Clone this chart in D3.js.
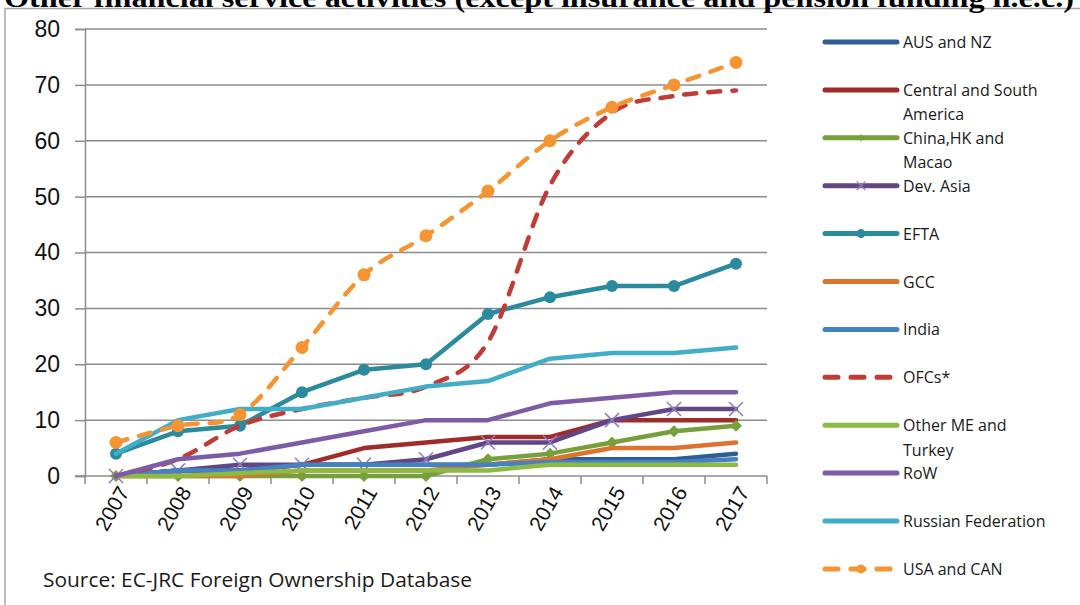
<!DOCTYPE html>
<html>
<head>
<meta charset="utf-8">
<script src="https://cdn.jsdelivr.net/npm/d3@7"></script>
<style>
  body { margin: 0; background: #fff; }
  svg { display: block; }
</style>
</head>
<body>
<script>
const w = 1080
const h = 605

// categories and tick labels
const years = ['2007','2008','2009','2010','2011','2012','2013','2014','2015','2016','2017']
const yTicks = [0, 10, 20, 30, 40, 50, 60, 70, 80]

// series values
const ausNz      = [0, 1, 1, 2, 2, 2, 2, 3, 3, 3, 4]
const csAmerica  = [0, 1, 1, 2, 5, 6, 7, 7, 10, 10, 10]
const chinaHk    = [0, 0, 0, 0, 0, 0, 3, 4, 6, 8, 9]
const devAsia    = [0, 1, 2, 2, 2, 3, 6, 6, 10, 12, 12]
const efta       = [4, 8, 9, 15, 19, 20, 29, 32, 34, 34, 38]
const gcc        = [0, 0, 0, 1, 1, 1, 2, 3, 5, 5, 6]
const india      = [0, 1, 1, 2, 2, 2, 2, 2.5, 2.5, 2.5, 3]
const ofcs       = [0, 3, 9, 12, 14, 16, 24, 52, 65, 68, 69]
const otherMe    = [0, 0, 0.5, 1, 1, 1, 1, 2, 2, 2, 2]
const row        = [0, 3, 4, 6, 8, 10, 10, 13, 14, 15, 15]
const russia     = [4, 10, 12, 12, 14, 16, 17, 21, 22, 22, 23]
const usaCan     = [6, 9, 11, 23, 36, 43, 51, 60, 66, 70, 74]

const series = [
    {name: ['AUS and NZ'], values: ausNz, color: '#2E5E93'},
    {name: ['Central and South', 'America'], values: csAmerica, color: '#A02B2B'},
    {name: ['China,HK and', 'Macao'], values: chinaHk, color: '#76A03A', marker: 'diamond'},
    {name: ['Dev. Asia'], values: devAsia, color: '#614785', marker: 'cross'},
    {name: ['EFTA'], values: efta, color: '#2B8A9E', marker: 'circle'},
    {name: ['GCC'], values: gcc, color: '#DC7430'},
    {name: ['India'], values: india, color: '#4582C4'},
    {name: ['OFCs*'], values: ofcs, color: '#C23B36', dashed: true, smooth: true},
    {name: ['Other ME and', 'Turkey'], values: otherMe, color: '#8DBA43'},
    {name: ['RoW'], values: row, color: '#7D5BA6'},
    {name: ['Russian Federation'], values: russia, color: '#41ADC9'},
    {name: ['USA and CAN'], values: usaCan, color: '#F69431', dashed: true, smooth: true, marker: 'circle'}
]

const plot = {left: 85, right: 767, top: 29, bottom: 476}

const svg = d3.select('body').append('svg')
    .attr('width', w)
    .attr('height', h)

// chart frame
svg.append('path')
    .attr('d', 'M5,' + h + 'V8.5H' + w)
    .attr('fill', 'none')
    .attr('stroke', '#a6a6a6')
    .attr('stroke-width', 1.5)

// caption of the page above, cut by the crop
svg.append('text')
    .attr('x', 4)
    .attr('y', 7)
    .attr('textLength', 1070)
    .attr('lengthAdjust', 'spacingAndGlyphs')
    .style('font-family', 'Liberation Serif')
    .style('font-weight', 'bold')
    .style('font-size', '28px')
    .text('Other financial service activities (except insurance and pension funding n.e.c.)')

const x = d3.scaleBand()
    .domain(years)
    .range([plot.left, plot.right])

const y = d3.scaleLinear()
    .domain([0, 80])
    .range([plot.bottom, plot.top])

const cx = function (d, i) { return x(years[i]) + x.bandwidth() / 2 }

// gridlines
svg.append('g')
    .selectAll('line')
    .data(yTicks.slice(1))
    .enter()
    .append('line')
    .attr('x1', plot.left)
    .attr('x2', plot.right)
    .attr('y1', function (d) { return y(d) })
    .attr('y2', function (d) { return y(d) })
    .attr('stroke', '#8c8c8c')
    .attr('stroke-width', 1.5)

// y axis
const yAxis = svg.append('g')
    .attr('transform', 'translate(' + plot.left + ',0)')
    .call(d3.axisLeft(y).tickValues(yTicks).tickSize(10).tickPadding(15))
yAxis.select('.domain').attr('stroke', '#8c8c8c').attr('stroke-width', 1.5)
yAxis.selectAll('.tick line').attr('stroke', '#8c8c8c').attr('stroke-width', 1.5)
yAxis.selectAll('.tick text')
    .style('font-family', 'Liberation Sans')
    .style('font-size', '23px')
    .attr('fill', '#111')

// x axis: tick marks sit between categories
const xAxis = svg.append('g')
    .attr('transform', 'translate(0,' + plot.bottom + ')')
    .call(d3.axisBottom(x).tickSize(0).tickPadding(0))
xAxis.select('.domain').remove()
xAxis.append('line')
    .attr('x1', plot.left - 10)
    .attr('x2', plot.right)
    .attr('stroke', '#8c8c8c')
    .attr('stroke-width', 1.5)
xAxis.selectAll('.sep')
    .data(years.concat(['end']))
    .enter()
    .append('line')
    .attr('class', 'sep')
    .attr('x1', function (d, i) { return i < years.length ? x(d) : x.range()[1] })
    .attr('x2', function (d, i) { return i < years.length ? x(d) : x.range()[1] })
    .attr('y2', 8)
    .attr('stroke', '#8c8c8c')
    .attr('stroke-width', 1.5)
xAxis.selectAll('.tick text')
    .style('font-family', 'Liberation Sans')
    .style('font-size', '21px')
    .attr('fill', '#111')
    .attr('text-anchor', 'end')
    .attr('dy', 0)
    .attr('transform', 'translate(14,16) rotate(-60)')

// lines, drawn in series order so later ones sit on top
const lineGen = d3.line()
    .x(cx)
    .y(function (d) { return y(d) })

series.forEach(function (s) {
    const g = svg.append('g')
    g.append('path')
        .datum(s.values)
        .attr('d', lineGen.curve(s.smooth ? d3.curveCardinal.tension(0) : d3.curveLinear))
        .attr('fill', 'none')
        .attr('stroke', s.color)
        .attr('stroke-width', 4.5)
        .attr('stroke-linejoin', 'round')
        .attr('stroke-linecap', 'round')
        .attr('stroke-dasharray', s.dashed ? '12,12' : null)

    if (s.marker === 'circle') {
        g.selectAll('circle')
            .data(s.values)
            .enter()
            .append('circle')
            .attr('cx', cx)
            .attr('cy', function (d) { return y(d) })
            .attr('r', s.dashed ? 6.5 : 6)
            .attr('fill', s.color)
    } else if (s.marker === 'diamond') {
        g.selectAll('path.m')
            .data(s.values)
            .enter()
            .append('path')
            .attr('class', 'm')
            .attr('d', d3.symbol(d3.symbolDiamond2, 90))
            .attr('transform', function (d, i) { return 'translate(' + cx(d, i) + ',' + y(d) + ')' })
            .attr('fill', s.color)
    } else if (s.marker === 'cross') {
        g.selectAll('path.m')
            .data(s.values)
            .enter()
            .append('path')
            .attr('class', 'm')
            .attr('d', d3.symbol(d3.symbolX, 130))
            .attr('transform', function (d, i) { return 'translate(' + cx(d, i) + ',' + y(d) + ')' })
            .attr('fill', 'none')
            .attr('stroke', '#8e7cc3')
            .attr('stroke-width', 1.5)
    }
})

// legend
const legend = svg.append('g')
    .attr('transform', 'translate(825,42)')

const item = legend.selectAll('g')
    .data(series)
    .enter()
    .append('g')
    .attr('transform', function (d, i) { return 'translate(0,' + (i * 47.9) + ')' })

item.append('line')
    .attr('x1', 0)
    .attr('x2', 72)
    .attr('stroke', function (d) { return d.color })
    .attr('stroke-width', 5)
    .attr('stroke-linecap', 'round')
    .attr('stroke-dasharray', function (d) { return d.dashed ? '13,13' : null })

item.filter(function (d) { return d.marker === 'circle' })
    .append('circle')
    .attr('cx', 36)
    .attr('r', 4.5)
    .attr('fill', function (d) { return d.color })

item.filter(function (d) { return d.marker === 'diamond' })
    .append('path')
    .attr('d', d3.symbol(d3.symbolDiamond2, 30))
    .attr('transform', 'translate(36,0)')
    .attr('fill', function (d) { return d.color })

item.filter(function (d) { return d.marker === 'cross' })
    .append('path')
    .attr('d', d3.symbol(d3.symbolX, 50))
    .attr('transform', 'translate(36,0)')
    .attr('fill', 'none')
    .attr('stroke', '#8e7cc3')
    .attr('stroke-width', 1.2)

item.append('text')
    .attr('x', 78)
    .attr('y', 6)
    .style('font-family', 'Open Sans')
    .style('font-size', '16px')
    .attr('fill', '#1a1a1a')
    .selectAll('tspan')
    .data(function (d) { return d.name })
    .enter()
    .append('tspan')
    .attr('x', 78)
    .attr('dy', function (d, i) { return i === 0 ? 0 : 24.5 })
    .text(function (d) { return d })

// source note
svg.append('text')
    .attr('x', 43)
    .attr('y', 587)
    .attr('textLength', 429)
    .attr('lengthAdjust', 'spacingAndGlyphs')
    .style('font-family', 'Open Sans')
    .style('font-size', '20px')
    .attr('fill', '#1a1a1a')
    .text('Source: EC-JRC Foreign Ownership Database')
</script>
</body>
</html>
